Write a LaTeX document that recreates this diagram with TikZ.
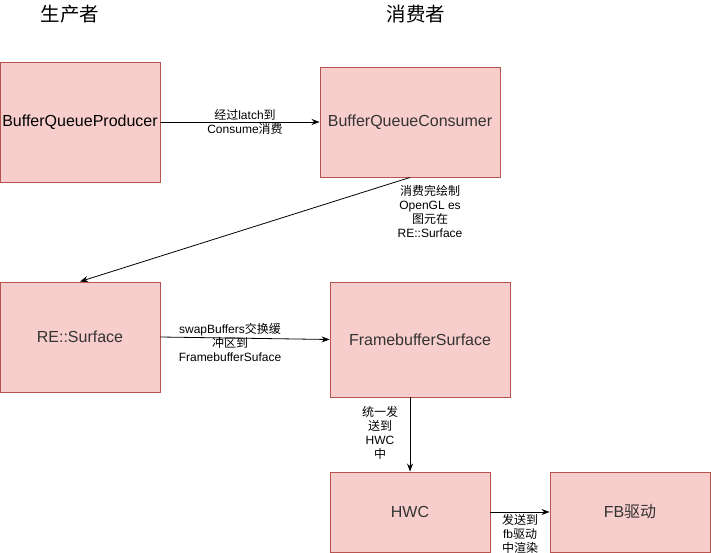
\documentclass[tikz,border=0pt]{standalone}
\usepackage{fontspec}
\setmainfont{Liberation Sans}
\newfontfamily\cjk{Noto Sans CJK SC}
\usetikzlibrary{arrows.meta}
\definecolor{boxfill}{HTML}{F8CECC}
\definecolor{boxline}{HTML}{B85450}
\definecolor{boxtext}{HTML}{333333}
\tikzset{
  box/.style={draw=boxline, fill=boxfill, line width=0.9pt, inner sep=0pt, text=boxtext,
    font=\fontsize{16}{19}\selectfont},
  lbl/.style={align=center, inner sep=0pt, font=\fontsize{12}{14}\selectfont},
  title/.style={inner sep=0pt, font=\cjk\fontsize{19.5}{22}\selectfont},
  conn/.style={draw=black, line width=0.8pt, -{Stealth[length=8pt,width=6pt]}}
}
\begin{document}
\begin{tikzpicture}[x=1pt,y=-1pt]
\useasboundingbox (0,0) rectangle (711,553);
\node[title] (t1) at (70,14) {生产者};
\node[title] (t2) at (416,14) {消费者};

\node[box, text=black, minimum width=160pt, minimum height=120pt] (prod) at (80,122) {BufferQueueProducer};
\node[box, minimum width=180pt, minimum height=110pt] (cons) at (410,122) {BufferQueueConsumer};
\node[box, minimum width=160pt, minimum height=110pt] (re) at (80,337) {RE::Surface};
\node[box, minimum width=180pt, minimum height=115pt] (fbs) at (420,339.5) {FramebufferSurface};
\node[box, minimum width=160pt, minimum height=80pt] (hwc) at (410,512) {HWC};
\node[box, minimum width=160pt, minimum height=80pt] (fb) at (630,512) {FB{\cjk 驱动}};

\draw[conn] (prod.east) -- (cons.west);
\draw[conn] (cons.south) -- (re.north);
\draw[conn] (re.east) -- (fbs.west);
\draw[conn] (fbs.south -| hwc.north) -- (hwc.north);
\draw[conn] (hwc.east) -- (fb.west);

\node[lbl] (l1) at (245,122) {{\cjk 经过}latch{\cjk 到}\\Consume{\cjk 消费}};
\node[lbl] (l2) at (430,211.5) {{\cjk 消费完绘制}\\OpenGL es\\{\cjk 图元在}\\RE::Surface};
\node[lbl] (l3) at (230,342) {swapBuffers{\cjk 交换缓}\\{\cjk 冲区到}\\FramebufferSuface};
\node[lbl] (l4) at (380,433) {{\cjk 统一发}\\{\cjk 送到}\\HWC\\{\cjk 中}};
\node[lbl] (l5) at (520,534) {{\cjk 发送到}\\fb{\cjk 驱动}\\{\cjk 中渲染}};
\end{tikzpicture}
\end{document}
